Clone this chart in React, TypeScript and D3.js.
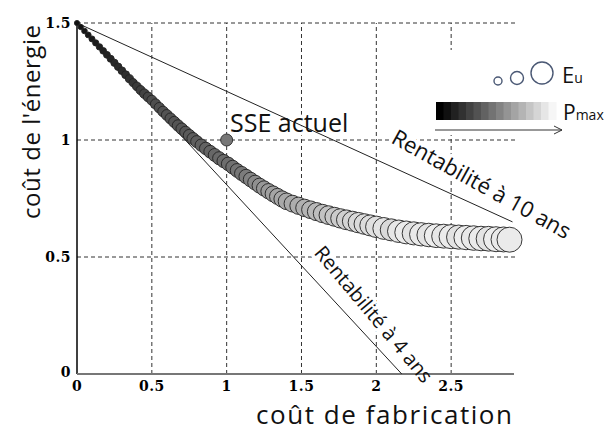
import React from "react";
import * as d3 from "d3";

// bubbles: coût de fabrication / coût de l'énergie, size = Eu, shade = Pmax
const fabCost = [
  0.0, 0.025, 0.05, 0.075, 0.1, 0.125, 0.15, 0.175, 0.2, 0.225, 0.25, 0.275, 0.3, 0.325, 0.35, 0.375, 0.4,
  0.425, 0.45, 0.475, 0.5, 0.525, 0.55, 0.575, 0.6, 0.625, 0.65, 0.675, 0.7, 0.725, 0.75, 0.775, 0.8,
  0.83, 0.86, 0.89, 0.92, 0.95, 0.98, 1.01, 1.04, 1.07, 1.1, 1.13, 1.16, 1.19, 1.22, 1.25, 1.28, 1.31, 1.34,
  1.37, 1.4,
  1.44, 1.48, 1.52, 1.56, 1.6, 1.64, 1.68, 1.72, 1.76, 1.8, 1.84, 1.88, 1.92, 1.96,
  2.0, 2.05, 2.1, 2.15, 2.2, 2.25, 2.3, 2.35, 2.4, 2.45, 2.5, 2.55, 2.6, 2.65, 2.7, 2.75, 2.8, 2.85, 2.89,
];
const energyCost = [
  1.5, 1.483, 1.466, 1.449, 1.432, 1.415, 1.398, 1.381, 1.364, 1.347, 1.33, 1.313, 1.296, 1.279, 1.262,
  1.245, 1.229, 1.213, 1.198, 1.184, 1.17, 1.154, 1.138, 1.122, 1.107, 1.092, 1.077, 1.062, 1.048, 1.034,
  1.02, 1.006, 0.993,
  0.978, 0.964, 0.95, 0.936, 0.922, 0.91, 0.898, 0.884, 0.87, 0.857, 0.844, 0.831, 0.818, 0.805, 0.793,
  0.781, 0.77, 0.759, 0.748, 0.738,
  0.728, 0.719, 0.71, 0.702, 0.694, 0.686, 0.679, 0.672, 0.665, 0.659, 0.653, 0.647, 0.641, 0.635,
  0.629, 0.622, 0.616, 0.61, 0.605, 0.601, 0.597, 0.594, 0.591, 0.589, 0.587, 0.585, 0.583, 0.581, 0.579,
  0.578, 0.576, 0.575, 0.574,
];
const usefulEnergy = [
  2.5, 2.6, 2.7, 2.8, 2.9, 3.0, 3.1, 3.2, 3.3, 3.4, 3.5, 3.6, 3.7, 3.8, 3.9, 4.0, 4.2, 4.4, 4.6, 4.7, 4.8,
  4.9, 5.0, 5.1, 5.2, 5.3, 5.4, 5.5, 5.6, 5.6, 5.7, 5.8, 5.8,
  5.9, 6.0, 6.1, 6.2, 6.3, 6.4, 6.5, 6.6, 6.6, 6.8, 6.9, 7.0, 7.1, 7.2, 7.3, 7.4, 7.6, 7.7, 7.8, 8.0,
  8.1, 8.3, 8.4, 8.5, 8.7, 8.8, 9.0, 9.1, 9.3, 9.5, 9.6, 9.8, 9.9, 10.1,
  10.3, 10.5, 10.6, 10.8, 11.0, 11.1, 11.2, 11.3, 11.4, 11.5, 11.6, 11.6, 11.7, 11.8, 11.8, 11.9, 12.0,
  12.0, 12.0,
];
const maxPower = [
  0.0, 0.01, 0.02, 0.03, 0.04, 0.05, 0.06, 0.07, 0.08, 0.09, 0.1, 0.11, 0.12, 0.13, 0.14, 0.16, 0.18, 0.2,
  0.22, 0.24, 0.26, 0.27, 0.28, 0.28, 0.29, 0.29, 0.3, 0.3, 0.31, 0.31, 0.32, 0.33, 0.34,
  0.35, 0.36, 0.37, 0.38, 0.39, 0.4, 0.41, 0.42, 0.44, 0.45, 0.47, 0.5, 0.53, 0.56, 0.59, 0.61, 0.63, 0.65,
  0.66, 0.67,
  0.68, 0.69, 0.7, 0.72, 0.74, 0.76, 0.78, 0.8, 0.82, 0.84, 0.86, 0.88, 0.89, 0.9,
  0.91, 0.93, 0.88, 0.94, 0.96, 0.92, 0.95, 0.93, 0.97, 0.94, 0.96, 0.92, 0.97, 0.95, 0.96, 0.93, 0.97,
  0.95, 0.96,
];

const xTicks = [0, 0.5, 1, 1.5, 2, 2.5];
const yTicks = [0, 0.5, 1, 1.5];
const sseActuel = [1, 1];
const payback10 = [[0, 1.5], [2.91, 0.65]];
const payback4 = [[0, 1.5], [2.17, 0]];
const legendSizes = [4, 6.5, 11];

const sans = "'Open Sans', sans-serif";

// annotations that hide the grid behind them
const notes = [
  { label: "SSE actuel", transform: "translate(230,132)", anchor: "start", base: "auto", size: 25 },
  { label: "Rentabilité à 10 ans", transform: "translate(482,183) rotate(29)", anchor: "middle", base: "central", size: 22 },
  { label: "Rentabilité à 4 ans", transform: "translate(374,314) rotate(50)", anchor: "middle", base: "central", size: 20 },
];

export default function App() {
  const x = d3.scaleLinear().domain([0, 2.92]).range([77, 514]);
  const y = d3.scaleLinear().domain([0, 1.5]).range([374, 23]);
  const r = d3.scaleLinear().domain([0, 12]).range([0, 12.5]);
  const shade = d3.scaleLinear<string>().domain([0, 1]).range(["#111", "#f4f4f4"]);
  const line = d3.line<number[]>().x((d) => x(d[0])).y((d) => y(d[1]));

  const tickFont = { fontFamily: "'DejaVu Serif', serif", fontWeight: 700, fontSize: 14, letterSpacing: 0.5 };
  const grad = d3.range(16);

  const noteText = (halo: boolean) =>
    notes.map((n) => (
      <text
        key={n.label + halo}
        transform={n.transform}
        textAnchor={n.anchor as any}
        dominantBaseline={n.base as any}
        fontFamily={sans}
        fontSize={n.size}
        fill={halo ? "#fff" : "#111"}
        stroke={halo ? "#fff" : "none"}
        strokeWidth={halo ? 7 : 0}
        strokeLinejoin="round"
      >
        {n.label}
      </text>
    ));

  return (
    <svg width={608} height={432} style={{ position: "absolute", left: 0, top: 0, background: "#fff" }}>
      {/* grid */}
      <g stroke="#333" strokeDasharray="4,3" strokeWidth={1}>
        {xTicks.slice(1).map((t) => (
          <line key={"gx" + t} x1={x(t)} x2={x(t)} y1={y(0)} y2={y(1.5)} />
        ))}
        {yTicks.slice(1).map((t) => (
          <line key={"gy" + t} x1={x(0)} x2={x(2.94)} y1={y(t)} y2={y(t)} />
        ))}
      </g>

      {/* legend box */}
      <rect x={425} y={50} width={183} height={85} fill="#fff" />
      {noteText(true)}

      {/* axes */}
      <line x1={x(0)} x2={x(0)} y1={y(0)} y2={y(1.5)} stroke="#000" strokeWidth={1.5} />
      <line x1={x(0)} x2={x(2.92)} y1={y(0)} y2={y(0)} stroke="#777" strokeWidth={2} />
      {yTicks.map((t) => (
        <text key={"yt" + t} x={71} y={y(t) + (t === 0 ? 3 : 5)} textAnchor="end" style={tickFont}>
          {t}
        </text>
      ))}
      {xTicks.map((t) => (
        <text key={"xt" + t} x={x(t)} y={391} textAnchor="middle" style={tickFont}>
          {t}
        </text>
      ))}

      {/* payback lines */}
      <path d={line(payback10) || ""} stroke="#222" strokeWidth={1} fill="none" />
      <path d={line(payback4) || ""} stroke="#222" strokeWidth={1} fill="none" />

      {/* bubbles */}
      <g stroke="#222" strokeWidth={0.9}>
        {fabCost.map((fc, i) => (
          <circle key={i} cx={x(fc)} cy={y(energyCost[i])} r={r(usefulEnergy[i])} fill={shade(maxPower[i])} />
        ))}
      </g>

      {/* SSE actuel */}
      <circle cx={x(sseActuel[0])} cy={y(sseActuel[1])} r={6} fill="#777" stroke="#333" strokeWidth={1} />
      {noteText(false)}

      {/* legend */}
      {legendSizes.map((s, i) => (
        <circle key={"ls" + i} cx={[498, 517, 542][i]} cy={[81, 78, 73][i]} r={s} fill="none" stroke="#4a5874" strokeWidth={1.4} />
      ))}
      <text x={562} y={83} fill="#111" style={{ fontFamily: sans }}>
        <tspan fontSize={22}>E</tspan>
        <tspan fontSize={14}>u</tspan>
      </text>
      {grad.map((g) => (
        <rect
          key={"g" + g}
          x={436 + (g * 120) / 16}
          y={102}
          width={120 / 16 + 0.5}
          height={18}
          fill={d3.interpolateRgb("#000", "#f6f6f6")(g / 15)}
        />
      ))}
      <text x={563} y={120} fill="#111" style={{ fontFamily: sans }}>
        <tspan fontSize={21}>P</tspan>
        <tspan fontSize={14}>max</tspan>
      </text>
      <g stroke="#333" strokeWidth={1} fill="none">
        <line x1={435} x2={562} y1={130} y2={130} />
        <polyline points="554,126 562,130 554,134" />
      </g>

      {/* axis titles */}
      <text x={384} y={424} textAnchor="middle" textLength={256} style={{ fontFamily: sans, fontSize: 26 }} fill="#111">
        coût de fabrication
      </text>
      <text
        transform="translate(40,122) rotate(-90)"
        textAnchor="middle"
        textLength={194}
        style={{ fontFamily: sans, fontSize: 24 }}
        fill="#111"
      >
        coût de l'énergie
      </text>
    </svg>
  );
}
